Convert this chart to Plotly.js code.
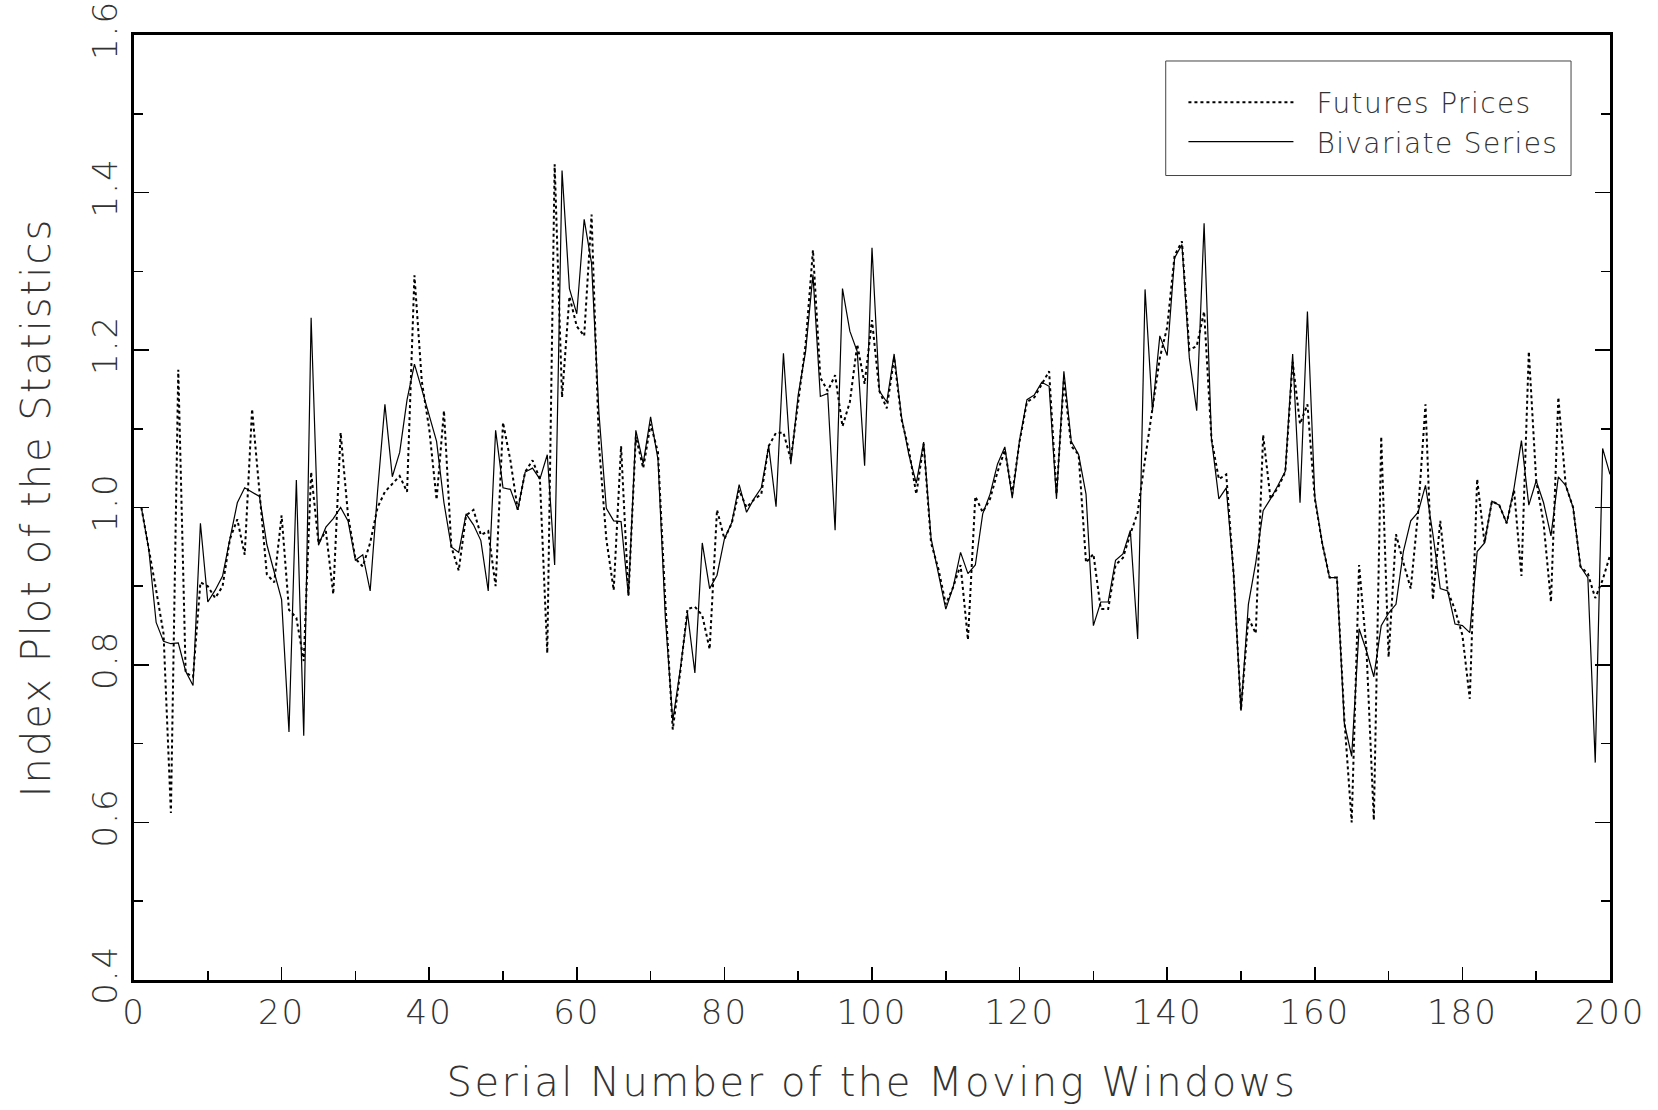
<!DOCTYPE html>
<html>
<head>
<meta charset="utf-8">
<script src="https://cdn.plot.ly/plotly-3.0.1.min.js"></script>
<style>
html,body{margin:0;padding:0;background:#fff;}
#chart{width:1658px;height:1110px;}
.xtitle{letter-spacing:2.5px;}
.ytitle{letter-spacing:2px;}
.legendtext{letter-spacing:1.4px;transform:translateX(18px);}
.legend .scrollbox{clip-path:none !important;}
.xtick text,.ytick text{letter-spacing:2px;}
</style>
</head>
<body>
<div id="chart"></div>
<script>
const windowNumbers = [1,2,3,4,5,6,7,8,9,10,11,12,13,14,15,16,17,18,19,20,
21,22,23,24,25,26,27,28,29,30,31,32,33,34,35,36,37,38,39,40,
41,42,43,44,45,46,47,48,49,50,51,52,53,54,55,56,57,58,59,60,
61,62,63,64,65,66,67,68,69,70,71,72,73,74,75,76,77,78,79,80,
81,82,83,84,85,86,87,88,89,90,91,92,93,94,95,96,97,98,99,100,
101,102,103,104,105,106,107,108,109,110,111,112,113,114,115,116,117,118,119,120,
121,122,123,124,125,126,127,128,129,130,131,132,133,134,135,136,137,138,139,140,
141,142,143,144,145,146,147,148,149,150,151,152,153,154,155,156,157,158,159,160,
161,162,163,164,165,166,167,168,169,170,171,172,173,174,175,176,177,178,179,180,
181,182,183,184,185,186,187,188,189,190,191,192,193,194,195,196,197,198,199,200];

const futuresPrices = [
1.000,0.950,0.895,0.840,0.612,1.175,0.790,0.785,0.905,0.900,
0.885,0.900,0.960,0.985,0.940,1.125,1.020,0.915,0.905,0.990,
0.870,0.860,0.805,1.045,0.955,0.970,0.890,1.095,0.990,0.935,
0.925,0.955,1.000,1.020,1.030,1.040,1.020,1.295,1.160,1.100,
1.010,1.123,0.950,0.920,0.990,0.997,0.965,0.970,0.900,1.108,
1.060,0.997,1.045,1.060,1.036,0.815,1.436,1.140,1.268,1.230,
1.218,1.372,1.080,0.960,0.895,1.078,0.888,1.090,1.050,1.106,
1.070,0.880,0.718,0.790,0.871,0.874,0.863,0.820,0.997,0.960,
0.980,1.022,1.000,1.010,1.017,1.078,1.095,1.095,1.061,1.134,
1.207,1.327,1.165,1.148,1.168,1.103,1.134,1.207,1.157,1.238,
1.148,1.126,1.190,1.112,1.073,1.017,1.081,0.955,0.922,0.877,
0.899,0.927,0.832,1.014,0.994,1.011,1.045,1.073,1.017,1.084,
1.134,1.140,1.157,1.173,1.017,1.162,1.078,1.067,0.930,0.941,
0.871,0.871,0.927,0.936,0.966,0.994,1.061,1.123,1.190,1.229,
1.320,1.338,1.200,1.205,1.249,1.087,1.036,1.042,0.916,0.743,
0.860,0.840,1.092,1.011,1.025,1.045,1.185,1.106,1.131,1.011,
0.955,0.911,0.911,0.732,0.600,0.927,0.820,0.603,1.090,0.810,
0.966,0.930,0.897,0.994,1.131,0.883,0.983,0.894,0.870,0.838,
0.757,1.036,0.955,1.008,1.003,0.980,1.022,0.913,1.198,1.034,
0.980,0.880,1.140,1.028,1.000,0.925,0.916,0.885,0.908,0.939];

const bivariateSeries = [
1.000,0.947,0.854,0.830,0.827,0.828,0.792,0.774,0.980,0.880,
0.895,0.913,0.960,1.006,1.025,1.020,1.014,0.953,0.917,0.883,
0.715,1.035,0.710,1.241,0.952,0.975,0.986,1.000,0.983,0.933,
0.940,0.894,1.020,1.131,1.039,1.070,1.137,1.182,1.150,1.117,
1.084,1.006,0.950,0.943,0.992,0.978,0.958,0.894,1.098,1.025,
1.023,0.997,1.045,1.050,1.036,1.067,0.927,1.428,1.278,1.246,
1.366,1.310,1.120,0.999,0.983,0.982,0.888,1.098,1.056,1.115,
1.061,0.860,0.729,0.793,0.866,0.790,0.955,0.897,0.914,0.960,
0.981,1.029,0.994,1.011,1.025,1.078,1.001,1.196,1.055,1.143,
1.198,1.296,1.141,1.145,0.971,1.278,1.224,1.198,1.053,1.330,
1.148,1.134,1.195,1.115,1.067,1.031,1.083,0.961,0.916,0.871,
0.899,0.943,0.916,0.927,0.992,1.017,1.055,1.077,1.012,1.086,
1.137,1.143,1.159,1.154,1.011,1.173,1.084,1.067,1.017,0.850,
0.880,0.880,0.933,0.941,0.971,0.833,1.277,1.123,1.218,1.193,
1.317,1.334,1.190,1.123,1.361,1.087,1.011,1.025,0.916,0.742,
0.877,0.930,0.996,1.011,1.028,1.046,1.195,1.006,1.249,1.014,
0.955,0.911,0.911,0.726,0.684,0.846,0.818,0.785,0.850,0.866,
0.877,0.944,0.983,0.994,1.028,0.966,0.897,0.894,0.852,0.850,
0.841,0.944,0.955,1.008,1.003,0.980,1.025,1.085,1.003,1.034,
1.006,0.964,1.039,1.028,1.000,0.925,0.911,0.676,1.075,1.042];

const seriesNames = ['Futures Prices','Bivariate Series'];
const xTickValues = [0,20,40,60,80,100,120,140,160,180,200];
const yTickValues = [0.4,0.6,0.8,1.0,1.2,1.4,1.6];

const textFont = {family:'DejaVu Sans, Liberation Sans, sans-serif', color:'#333', weight:200};

const traces = [
  {x:windowNumbers, y:futuresPrices, name:seriesNames[0], type:'scatter', mode:'lines',
   line:{color:'#000', width:2, dash:'dot'}},
  {x:windowNumbers, y:bivariateSeries, name:seriesNames[1], type:'scatter', mode:'lines',
   line:{color:'#000', width:1.2}}
];

const layout = {
  width:1658, height:1110,
  margin:{l:134, r:48, t:35, b:130},
  paper_bgcolor:'#fff', plot_bgcolor:'#fff',
  showlegend:true,
  legend:{x:0.711, xanchor:'left', y:0.955, yanchor:'top', bgcolor:'rgba(0,0,0,0)',
    borderwidth:0, itemwidth:105, tracegroupgap:0,
    font:Object.assign({}, textFont, {size:28})},
  xaxis:{range:[0,200], tickmode:'array', tickvals:xTickValues, ticks:'inside', ticklen:13,
    tickwidth:1.5, tickcolor:'#000', ticklabeloverflow:'allow',
    minor:{dtick:10, ticks:'inside', ticklen:9, tickwidth:1.5, tickcolor:'#000'},
    showgrid:false, zeroline:false, showline:true, linecolor:'#000', linewidth:3, mirror:true,
    tickfont:Object.assign({}, textFont, {size:34}),
    title:{text:'Serial Number of the Moving Windows', font:Object.assign({}, textFont, {size:40}), standoff:38}},
  yaxis:{range:[0.3999,1.6001], tickmode:'array', tickvals:yTickValues, tickformat:'.1f',
    ticks:'inside', ticklen:15, tickwidth:1.5, tickcolor:'#000', tickangle:-90, ticklabeloverflow:'allow',
    minor:{dtick:0.1, ticks:'inside', ticklen:9, tickwidth:1.5, tickcolor:'#000'},
    showgrid:false, zeroline:false, showline:true, linecolor:'#000', linewidth:3, mirror:'ticks',
    tickfont:Object.assign({}, textFont, {size:34}),
    title:{text:'Index Plot of the Statistics', font:Object.assign({}, textFont, {size:40}), standoff:23}},
  shapes:[{type:'rect', xref:'paper', yref:'paper', x0:0.699, x1:0.9736, y0:0.8513, y1:0.9725,
    line:{color:'#444', width:1}, fillcolor:'rgba(0,0,0,0)'}]
};

Plotly.newPlot('chart', traces, layout, {displayModeBar:false, staticPlot:true});
</script>
</body>
</html>
